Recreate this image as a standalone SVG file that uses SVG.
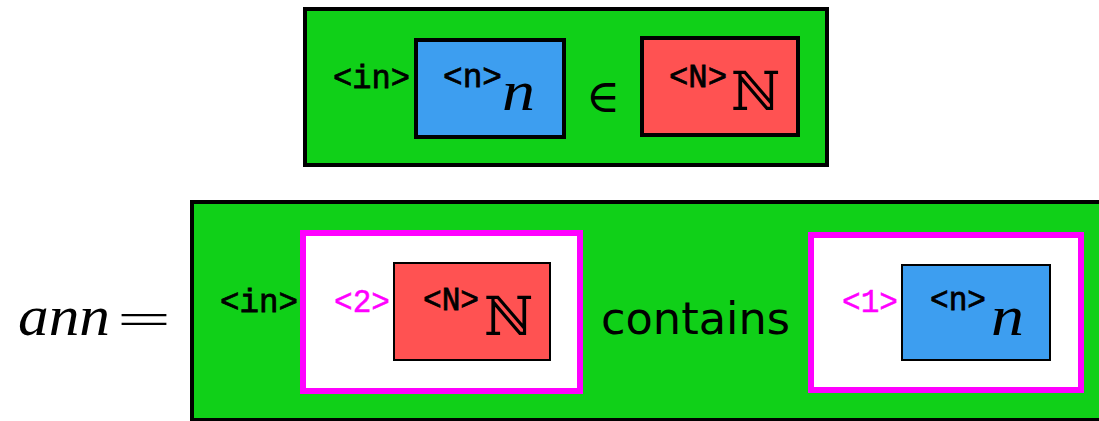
<svg xmlns="http://www.w3.org/2000/svg" width="1099" height="421" viewBox="0 0 1099 421">
<style>
.green{fill:#10d018;stroke:#000;stroke-width:4}
.blue{fill:#3d9ef0;stroke:#000}
.red{fill:#ff5252;stroke:#000}
.mag{fill:#fff;stroke:#ff00ff;stroke-width:6}
.tt{font-family:"Liberation Mono","DejaVu Sans Mono",monospace;font-size:34px;fill:#000;stroke:#000;stroke-width:0.8}
.ttm{font-family:"Liberation Mono","DejaVu Sans Mono",monospace;font-size:34px;fill:#ff00ff;stroke:#ff00ff;stroke-width:0.5}
.it{font-family:"Liberation Serif","DejaVu Serif",serif;font-style:italic;font-size:58px;fill:#000}
.math{font-family:"DejaVu Serif","Liberation Serif",serif;fill:#000}
.sans{font-family:"DejaVu Sans","Liberation Sans",sans-serif;font-size:44px;fill:#000}
</style>
<rect width="1099" height="421" fill="#fff"/>
<g id="top">
<rect class="green" x="305" y="9" width="522" height="156"/>
<text class="tt" x="333" y="88" textLength="77" lengthAdjust="spacingAndGlyphs">&lt;in&gt;</text>
<g id="top-n">
<rect class="blue" x="416" y="40" width="148" height="97" stroke-width="4"/>
<text class="tt" x="443" y="87" textLength="59" lengthAdjust="spacingAndGlyphs">&lt;n&gt;</text>
<text class="it" x="502" y="110" textLength="33" lengthAdjust="spacingAndGlyphs">n</text>
</g>
<text class="math" x="586" y="112" font-size="46">∈</text>
<g id="top-N">
<rect class="red" x="642" y="38" width="156" height="97" stroke-width="4"/>
<text class="tt" x="669" y="87" textLength="58" lengthAdjust="spacingAndGlyphs">&lt;N&gt;</text>
<text class="math" x="731" y="110" font-size="54">ℕ</text>
</g>
</g>
<g id="ann-label">
<text class="it" x="18" y="335" textLength="92" lengthAdjust="spacingAndGlyphs">ann</text>
<text x="114" y="337" font-family="DejaVu Sans, sans-serif" font-weight="200" font-size="56" textLength="60" lengthAdjust="spacingAndGlyphs">=</text>
</g>
<g id="bottom">
<rect class="green" x="192" y="202" width="1000" height="218"/>
<text class="tt" x="220" y="312" textLength="78" lengthAdjust="spacingAndGlyphs">&lt;in&gt;</text>
<g id="slot2">
<rect class="mag" x="303" y="233" width="277" height="158"/>
<text class="ttm" x="334" y="312" textLength="56" lengthAdjust="spacingAndGlyphs">&lt;2&gt;</text>
<g id="bottom-N">
<rect class="red" x="394" y="263" width="156" height="97" stroke-width="2"/>
<text class="tt" x="423" y="310" textLength="56" lengthAdjust="spacingAndGlyphs">&lt;N&gt;</text>
<text class="math" x="484" y="335" font-size="54">ℕ</text>
</g>
</g>
<text class="sans" x="601" y="334" textLength="189" lengthAdjust="spacingAndGlyphs">contains</text>
<g id="slot1">
<rect class="mag" x="811" y="235" width="270" height="155"/>
<text class="ttm" x="842" y="312" textLength="56" lengthAdjust="spacingAndGlyphs">&lt;1&gt;</text>
<g id="bottom-n">
<rect class="blue" x="902" y="265" width="148" height="95" stroke-width="2"/>
<text class="tt" x="930" y="310" textLength="56" lengthAdjust="spacingAndGlyphs">&lt;n&gt;</text>
<text class="it" x="991" y="335" textLength="33" lengthAdjust="spacingAndGlyphs">n</text>
</g>
</g>
</g>
</svg>
